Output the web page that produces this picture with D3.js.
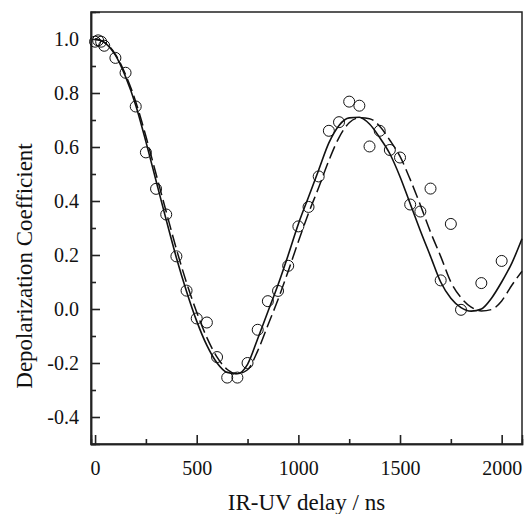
<!DOCTYPE html>
<html>
<head>
<meta charset="utf-8">
<script src="https://cdn.jsdelivr.net/npm/d3@7"></script>
<style>
  body { margin: 0; background: #fff; }
  svg text { font-family: "Liberation Serif", "Times New Roman", serif; fill: #111; }
</style>
</head>
<body>
<div id="plot"></div>
<script>
// measured points (delay in ns, depolarization coefficient)
var delays = [0, 15, 30, 45, 100, 150, 200, 250, 300, 350, 400, 450, 500, 550, 600, 650, 700,
  750, 800, 850, 900, 950, 1000, 1050, 1100, 1150, 1200, 1250, 1300, 1350, 1400, 1450, 1500,
  1550, 1600, 1650, 1700, 1750, 1800, 1900, 2000];
var coeffs = [0.99, 0.995, 0.99, 0.975, 0.93, 0.875, 0.75, 0.58, 0.445, 0.35, 0.195, 0.068, -0.035,
  -0.05, -0.178, -0.254, -0.254, -0.2, -0.077, 0.029, 0.067, 0.16, 0.306, 0.378, 0.491, 0.66,
  0.692, 0.768, 0.753, 0.602, 0.66, 0.589, 0.561, 0.387, 0.361, 0.446, 0.106, 0.315, -0.003,
  0.096, 0.178];

// fitted curves
var fitT = [0, 50, 100, 150, 200, 250, 300, 350, 400, 450, 500, 550, 600, 650, 700, 750, 800,
  850, 900, 950, 1000, 1050, 1100, 1150, 1200, 1250, 1300, 1350, 1400, 1450, 1500, 1550, 1600,
  1650, 1700, 1750, 1800, 1850, 1900, 1950, 2000, 2050, 2100];
var solidFit = [1.0, 0.985, 0.94, 0.86, 0.755, 0.62, 0.475, 0.33, 0.19, 0.065, -0.045, -0.135,
  -0.2, -0.235, -0.24, -0.205, -0.11, -0.01, 0.09, 0.2, 0.315, 0.415, 0.515, 0.615, 0.68, 0.708,
  0.71, 0.685, 0.635, 0.575, 0.49, 0.39, 0.29, 0.195, 0.1, 0.04, 0.005, -0.008, 0.0, 0.04, 0.1,
  0.17, 0.26];
var dashedFit = [1.0, 0.986, 0.943, 0.868, 0.768, 0.64, 0.5, 0.36, 0.222, 0.097, -0.012, -0.106,
  -0.178, -0.224, -0.24, -0.225, -0.155, -0.06, 0.035, 0.14, 0.25, 0.355, 0.45, 0.55, 0.635,
  0.69, 0.708, 0.705, 0.677, 0.625, 0.565, 0.48, 0.385, 0.285, 0.195, 0.1, 0.042, 0.007, -0.007,
  -0.002, 0.03, 0.088, 0.14];

var xMajor = [0, 500, 1000, 1500, 2000];
var xMinor = [250, 750, 1250, 1750];
var yMajor = [-0.4, -0.2, 0.0, 0.2, 0.4, 0.6, 0.8, 1.0];
var yMinor = [-0.3, -0.1, 0.1, 0.3, 0.5, 0.7, 0.9];

var margin = { top: 12, right: 3, bottom: 70, left: 91 }
  , width = 525 - margin.left - margin.right
  , height = 514 - margin.top - margin.bottom;

var svg = d3.select("#plot")
  .append("svg")
  .attr("width", 525)
  .attr("height", 514)
  .append("g")
  .attr("transform", "translate(" + margin.left + "," + margin.top + ")")

var xScale = d3.scaleLinear()
  .domain([-20, 2100])
  .range([0, width])

var yScale = d3.scaleLinear()
  .domain([-0.5, 1.1])
  .range([height, 0])

// frame
svg.append("rect")
  .attr("width", width)
  .attr("height", height)
  .attr("fill", "none")
  .attr("stroke", "#222")
  .attr("stroke-width", 1.5)

svg.append("g")
  .attr("class", "x axis")
  .attr("transform", "translate(0, " + height + ")")
  .call(d3.axisBottom(xScale).tickValues(xMajor).tickSize(-9).tickPadding(17).tickFormat(d => String(d)))

svg.append("g")
  .attr("class", "x minor")
  .attr("transform", "translate(0, " + height + ")")
  .call(d3.axisBottom(xScale).tickValues(xMinor).tickSize(-5).tickFormat(""))

// plain hyphen for negatives, like the original
svg.append("g")
  .attr("class", "y axis")
  .call(d3.axisLeft(yScale).tickValues(yMajor).tickSize(-9).tickPadding(12).tickFormat(d => d.toFixed(1)))

svg.append("g")
  .attr("class", "y minor")
  .call(d3.axisLeft(yScale).tickValues(yMinor).tickSize(-5).tickFormat(""))

svg.selectAll(".axis text").style("font-size", "20px")
svg.selectAll(".axis .domain, .minor .domain").attr("stroke", "#222").attr("stroke-width", 1.5)
svg.selectAll(".axis line, .minor line").attr("stroke", "#222").attr("stroke-width", 1.6)

var line = d3.line()
  .x((d, i) => xScale(fitT[i]))
  .y(d => yScale(d))
  .curve(d3.curveMonotoneX)

svg.append("path")
  .datum(dashedFit)
  .attr("d", line)
  .attr("fill", "none")
  .attr("stroke", "#111")
  .attr("stroke-width", 1.5)
  .attr("stroke-dasharray", "13,5")

svg.append("path")
  .datum(solidFit)
  .attr("d", line)
  .attr("fill", "none")
  .attr("stroke", "#111")
  .attr("stroke-width", 1.6)

svg.selectAll("circle.pt")
  .data(coeffs)
  .enter()
  .append("circle")
  .attr("class", "pt")
  .attr("cx", (d, i) => xScale(delays[i]))
  .attr("cy", d => yScale(d))
  .attr("r", 5.5)
  .attr("fill", "none")
  .attr("stroke", "#111")
  .attr("stroke-width", 1)

svg.append("text")
  .attr("x", width / 2)
  .attr("y", height + 66)
  .attr("text-anchor", "middle")
  .style("font-size", "23px")
  .text("IR-UV delay / ns")

svg.append("text")
  .attr("transform", "translate(" + (32 - margin.left) + "," + 254 + ") rotate(-90)")
  .attr("text-anchor", "middle")
  .style("font-size", "23px")
  .text("Depolarization Coefficient")
</script>
</body>
</html>
